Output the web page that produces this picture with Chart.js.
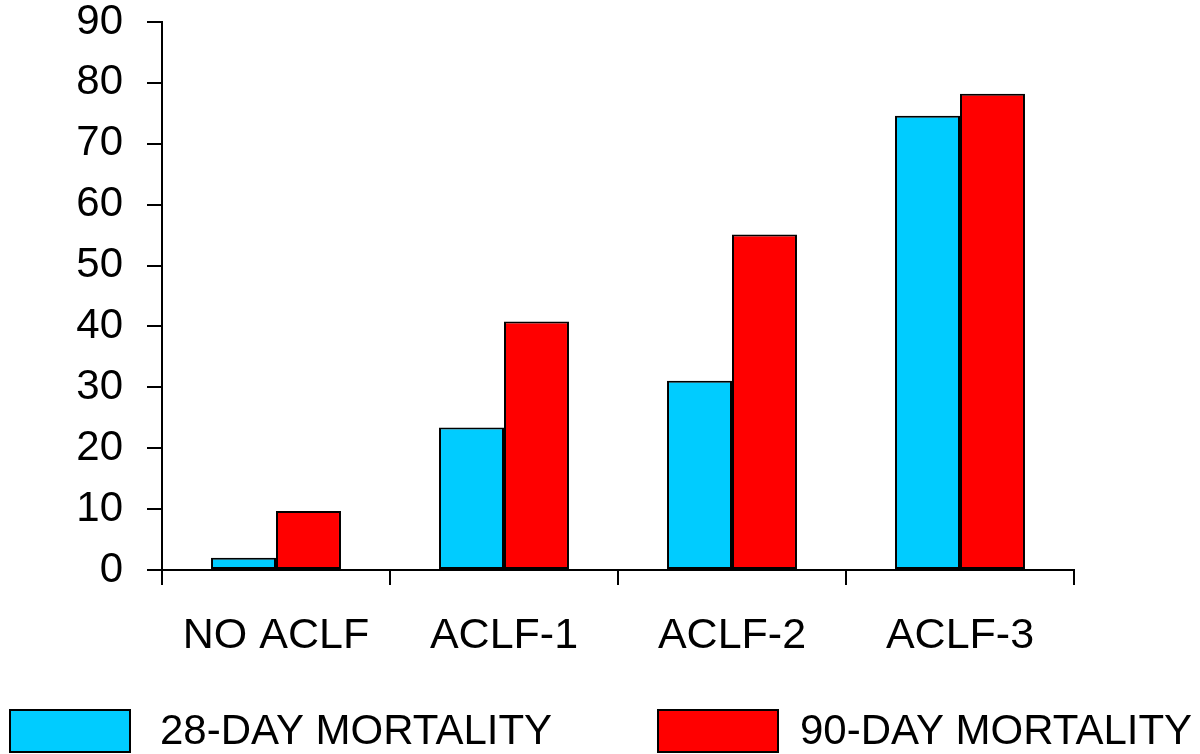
<!DOCTYPE html>
<html>
<head>
<meta charset="utf-8">
<script src="https://cdn.jsdelivr.net/npm/chart.js@4"></script>
<style>
  body { margin: 0; background: #fff; }
  #wrap { width: 1200px; height: 754px; }
</style>
</head>
<body>
<div id="wrap"><canvas id="myChart" width="1200" height="754"></canvas></div>
<script>
// chart values
const categories = ['NO ACLF', 'ACLF-1', 'ACLF-2', 'ACLF-3'];
const seriesNames = ['28-DAY MORTALITY', '90-DAY MORTALITY'];
const mortality28 = [2.0, 23.4, 31.1, 74.6];
const mortality90 = [9.7, 40.8, 55.1, 78.2];
const yTicks = [0, 10, 20, 30, 40, 50, 60, 70, 80, 90];

const FONT = "'Liberation Sans', Arial, sans-serif";

// legend drawn under the axis, boxes wide like the original slide
const slideLegend = {
  id: 'slideLegend',
  afterDraw(chart) {
    const ctx = chart.ctx;
    const items = [
      { box: 10, text: 160 },
      { box: 658, text: 800 }
    ];
    ctx.save();
    ctx.font = '42px ' + FONT;
    ctx.textBaseline = 'middle';
    chart.data.datasets.forEach((ds, i) => {
      const it = items[i];
      ctx.fillStyle = ds.backgroundColor;
      ctx.fillRect(it.box, 710, 120, 42);
      ctx.strokeStyle = '#000';
      ctx.lineWidth = 2;
      ctx.strokeRect(it.box, 710, 120, 42);
      ctx.fillStyle = '#000';
      ctx.fillText(ds.label, it.text, 732);
    });
    ctx.restore();
  }
};

const data = {
  labels: categories,
  datasets: [{
    label: seriesNames[0],
    data: mortality28,
    backgroundColor: '#00ccff',
    borderColor: '#000',
    borderWidth: 2,
    borderSkipped: false
  }, {
    label: seriesNames[1],
    data: mortality90,
    backgroundColor: '#ff0000',
    borderColor: '#000',
    borderWidth: 2,
    borderSkipped: false
  }]
};

const config = {
  type: 'bar',
  data: data,
  options: {
    responsive: false,
    animation: false,
    categoryPercentage: 0.57,
    barPercentage: 1.0,
    layout: { padding: { top: 0, right: 126, bottom: 0, left: 0 } },
    plugins: {
      legend: { display: false },
      tooltip: { enabled: false }
    },
    scales: {
      x: {
        grid: {
          offset: true,
          drawOnChartArea: false,
          color: '#000',
          lineWidth: 2,
          tickLength: 15
        },
        border: { color: '#000', width: 2 },
        ticks: {
          color: '#000',
          padding: 25,
          font: { family: FONT, size: 43 }
        },
        afterFit(scale) { scale.height = 184; }
      },
      y: {
        min: 0,
        max: 90,
        grid: {
          drawOnChartArea: false,
          color: '#000',
          lineWidth: 2,
          tickLength: 15
        },
        border: { color: '#000', width: 2 },
        afterBuildTicks(scale) {
          scale.ticks = yTicks.map(v => ({ value: v }));
        },
        ticks: {
          color: '#000',
          padding: 24,
          font: { family: FONT, size: 42, lineHeight: 1 }
        },
        afterFit(scale) {
          scale.width = 162;
          scale.paddingTop = 22;
          scale.paddingBottom = 0;
        }
      }
    }
  },
  plugins: [slideLegend]
};

const myChart = new Chart(document.getElementById('myChart'), config);
</script>
</body>
</html>
